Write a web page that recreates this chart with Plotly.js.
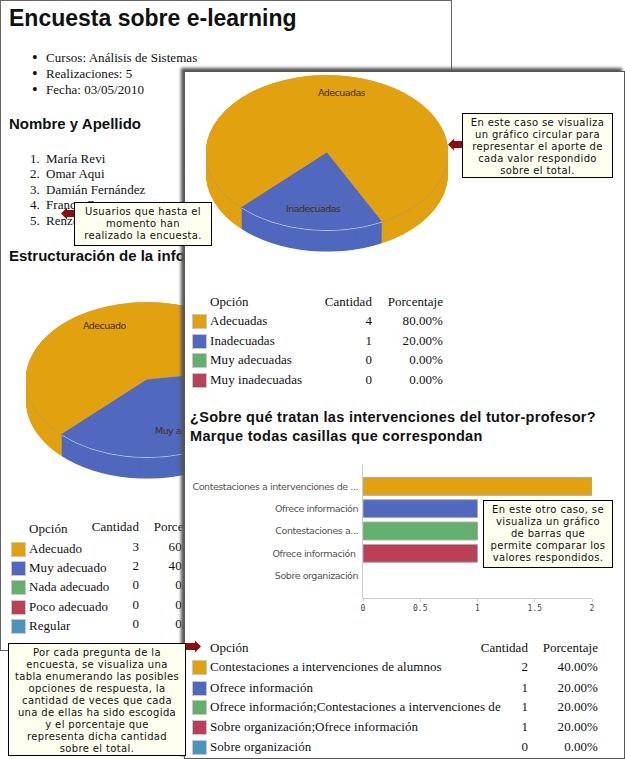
<!DOCTYPE html>
<html><head><meta charset="utf-8">
<script src="https://cdn.plot.ly/plotly-3.0.1.min.js"></script>
<style>
html,body{margin:0;padding:0;background:#fff;width:625px;height:759px;overflow:hidden}
#root{position:relative;width:625px;height:759px;overflow:hidden}
.page{position:absolute;background:#fff;box-sizing:border-box;overflow:hidden}
#back{left:0;top:0;width:452px;height:651px;border:1px solid #666}
#front{left:184px;top:71px;width:441px;height:688px;border:1px solid #555;box-shadow:-3px -3px 3px #555;overflow:visible}
.t{position:absolute;white-space:nowrap;color:#111}
.serif{font-family:"Liberation Serif",serif;font-size:13px;line-height:16px;letter-spacing:.05px}
.h{font-family:"Liberation Sans",sans-serif;font-weight:bold;color:#111}
.sw{position:absolute;width:13px;height:13px;border:1px solid #c8c8c8}
.tip{position:absolute;background:#fffff0;border:1px solid #000;box-sizing:border-box;text-align:center;font-family:"DejaVu Sans",sans-serif;font-size:10px;line-height:12px;color:#111;padding-top:2.5px;letter-spacing:.36px;z-index:20;white-space:nowrap}
.plab{position:absolute;font-family:"DejaVu Sans",sans-serif;font-size:9.5px;letter-spacing:-.55px;color:#3d3018;white-space:nowrap;overflow:hidden}
.pie{position:absolute;width:242px;height:276px;transform:scaleY(.64);transform-origin:0 0}
.arrow{position:absolute;z-index:19}
#bar .ytick text{letter-spacing:-.43px}
</style></head><body>
<div id="root">
  <div class="page" id="back"></div>
  <div class="page" id="front"></div>
</div>
<script>
/* ---------- chart values ---------- */
const colors=['#e2a210','#5068be','#62b06c','#bc3f58','#4a94be'];
const rimColors=['#b09a60','#d4d9ee','#62b06c','#bc3f58','#4a94be'];

const backOptions=['Adecuado','Muy adecuado','Nada adecuado','Poco adecuado','Regular'];
const backCounts=[3,2,0,0,0];
const backPercents=['60.00%','40.00%','0.00%','0.00%','0.00%'];

const frontOptions=['Adecuadas','Inadecuadas','Muy adecuadas','Muy inadecuadas'];
const frontCounts=[4,1,0,0];
const frontPercents=['80.00%','20.00%','0.00%','0.00%'];

const barOptions=['Contestaciones a intervenciones de alumnos','Ofrece información','Ofrece información;Contestaciones a intervenciones de','Sobre organización;Ofrece información','Sobre organización'];
const barTickLabels=['Contestaciones a intervenciones de ...','Ofrece información','Contestaciones a...','Ofrece información ','Sobre organización'];
const barCounts=[2,1,1,1,0];
const barPercents=['40.00%','20.00%','20.00%','20.00%','0.00%'];

const courseInfo=['Cursos: Análisis de Sistemas','Realizaciones: 5','Fecha: 03/05/2010'];
const people=['María Revi','Omar Aqui','Damián Fernández','Franco C','Renzo P'];

/* ---------- helpers ---------- */
const back=document.getElementById('back'), front=document.getElementById('front'), root=document.getElementById('root');
function txt(parent,ox,oy,s,x,cy,cls,extra){
  const d=document.createElement('div');d.className='t '+cls;d.textContent=s;
  d.style.cssText+=';left:'+(x-ox)+'px;top:'+(cy-oy-8)+'px;'+(extra||'');
  parent.appendChild(d);return d;
}
function rtxt(parent,ox,oy,s,right,cy,cls){
  const d=document.createElement('div');d.className='t '+cls;d.textContent=s;
  d.style.cssText+=';right:'+(parent.clientWidth-(right-ox))+'px;top:'+(cy-oy-8)+'px;';
  parent.appendChild(d);return d;
}
function table(parent,ox,oy,opts,counts,pcts,cfg){
  txt(parent,ox,oy,'Opción',cfg.optX,cfg.headY,'serif');
  rtxt(parent,ox,oy,'Cantidad',cfg.cntR,cfg.headY-(cfg.headShift||0),'serif');
  (cfg.pctHead?rtxt(parent,ox,oy,cfg.pctHead,cfg.pctR,cfg.headY-(cfg.headShift||0),'serif'):0);
  opts.forEach((o,i)=>{
    const y=cfg.rows[i];
    const sw=document.createElement('div');sw.className='sw';
    sw.style.cssText+=';left:'+(cfg.swX-ox)+'px;top:'+(y-oy-7)+'px;background:'+colors[i];
    parent.appendChild(sw);
    txt(parent,ox,oy,o,cfg.optX,y,'serif');
    rtxt(parent,ox,oy,String(counts[i]),cfg.cntR,y-(cfg.headShift||0),'serif');
    rtxt(parent,ox,oy,pcts[i],cfg.pctR,y-(cfg.headShift||0),'serif');
  });
}
function pie(parent,ox,oy,x,y,labels,values,rot){
  const d=document.createElement('div');d.className='pie';
  d.style.left=(x-ox)+'px';d.style.top=(y-oy)+'px';parent.appendChild(d);
  const D=242,H=276,depth=H-D,traces=[];
  for(let k=0;k<=depth;k++){
    const isRim=(k===depth-1);
    traces.push({type:'pie',labels:labels,values:values,sort:false,direction:'clockwise',rotation:rot,
      textinfo:'none',hoverinfo:'skip',showlegend:false,
      domain:{x:[0,1],y:[k/H,(k+D)/H]},
      marker:{colors:colors,line:{width:isRim?1:0,color:isRim?rimColors:'rgba(0,0,0,0)'}}});
  }
  Plotly.newPlot(d,traces,{width:242,height:276,margin:{l:0,r:0,t:0,b:0,pad:0},paper_bgcolor:'rgba(0,0,0,0)',showlegend:false},{staticPlot:true,displayModeBar:false});
}
function plab(parent,ox,oy,s,x,y,clipW){
  const d=document.createElement('div');d.className='plab';d.textContent=s;
  d.style.left=(x-ox)+'px';d.style.top=(y-oy-7)+'px';
  if(clipW)d.style.width=clipW+'px';
  parent.appendChild(d);
}
function tip(lines,x,y,w,h){
  const d=document.createElement('div');d.className='tip';
  d.style.cssText+=';left:'+x+'px;top:'+y+'px;width:'+w+'px;height:'+h+'px;';
  d.innerHTML=lines.map(l=>l).join('<br>');root.appendChild(d);
}
function arrow(x,y,dir){
  const ns='http://www.w3.org/2000/svg',s=document.createElementNS(ns,'svg');
  s.setAttribute('class','arrow');s.setAttribute('width','15');s.setAttribute('height','13');
  s.style.left=x+'px';s.style.top=y+'px';
  const p=document.createElementNS(ns,'path');
  p.setAttribute('d',dir<0?'M0 6.5L6 0.5V3H15V10H6V12.5Z':'M15 6.5L9 0.5V3H0V10H9V12.5Z');
  p.setAttribute('fill','#8a0f0f');s.appendChild(p);root.appendChild(s);
}

/* ---------- back page ---------- */
txt(back,1,1,'Encuesta sobre e-learning',9,18,'h','font-size:23px;line-height:16px;');
courseInfo.forEach((s,i)=>{
  const y=[58,74,90][i];
  txt(back,1,1,s,46,y,'serif');
  txt(back,1,1,'•',32,y,'serif','font-size:16px;');
});
txt(back,1,1,'Nombre y Apellido',9,124,'h','font-size:15px;line-height:16px;');
people.forEach((s,i)=>{
  const y=[159,174,190,205,221][i];
  txt(back,1,1,s,46,y,'serif');
  txt(back,1,1,(i+1)+'.',30,y,'serif');
});
txt(back,1,1,'Estructuración de la información',9,256,'h','font-size:15px;line-height:16px;');
pie(back,1,1,26,302,backOptions,backCounts,225);
plab(back,1,1,'Adecuado',83,327);
plab(back,1,1,'Muy adecuado',155,432,28);
table(back,1,1,backOptions,backCounts,backPercents,{optX:29,headY:529,cntR:139,pctR:209,pctHead:'Porcentaje',swX:11,rows:[549,568,587,607,626],headShift:2});

/* ---------- front page ---------- */
pie(front,185,72,206,75,frontOptions,frontCounts,225);
plab(front,185,72,'Adecuadas',318,94);
plab(front,185,72,'Inadecuadas',286,210);
table(front,185,72,frontOptions,frontCounts,frontPercents,{optX:210,headY:302,cntR:372,pctR:443,pctHead:'Porcentaje',swX:192,rows:[321,341,360,380]});
txt(front,185,72,'¿Sobre qué tratan las intervenciones del tutor-profesor?',190,417,'h','font-size:14.5px;line-height:16px;letter-spacing:.3px;');
txt(front,185,72,'Marque todas casillas que correspondan',190,436,'h','font-size:14.5px;line-height:16px;letter-spacing:.3px;');

const barDiv=document.createElement('div');barDiv.id='bar';
barDiv.style.cssText='position:absolute;left:1px;top:383px;width:430px;height:165px;';
front.appendChild(barDiv);
Plotly.newPlot(barDiv,[{type:'bar',orientation:'h',x:barCounts,y:[0,1,2,3,4],width:.8,
  marker:{color:colors,line:{color:'#aaaaaa',width:[1,1,1,1,0]}},hoverinfo:'skip'}],{
  width:430,height:165,paper_bgcolor:'rgba(0,0,0,0)',plot_bgcolor:'rgba(0,0,0,0)',
  margin:{l:176.7,r:24,t:9,b:22,pad:0},showlegend:false,
  xaxis:{range:[0,2],tickvals:[0,.5,1,1.5,2],ticktext:['0','0.5','1','1.5','2'],showgrid:false,zeroline:false,
    showline:true,linecolor:'#cccccc',ticks:'outside',ticklen:3,tickcolor:'#cccccc',ticklabelstandoff:-1,
    tickfont:{family:'"DejaVu Sans Mono",monospace',size:8,color:'#444'}},
  yaxis:{range:[5,-1],tickvals:[0,1,2,3,4],ticktext:barTickLabels,showgrid:false,zeroline:false,
    showline:true,linecolor:'#cccccc',ticks:'',ticklen:0,ticklabelstandoff:2,
    tickfont:{family:'"DejaVu Sans",sans-serif',size:9.5,color:'#555'}}
},{staticPlot:true,displayModeBar:false});

table(front,185,72,barOptions,barCounts,barPercents,{optX:210,headY:648,cntR:528,pctR:598,pctHead:'Porcentaje',swX:192,rows:[667,688,707,727,747]});

/* ---------- call-outs ---------- */
tip(['Usuarios que hasta el','momento han','realizado la encuesta.'],74,202,138,44);
arrow(61,207,-1);
tip(['En este caso se visualiza','un gráfico circular para','representar el aporte de','cada valor respondido','sobre el total.'],462,113,151,65);
arrow(448,138,-1);
tip(['En este otro caso, se','visualiza un gráfico','de barras que','permite comparar los','valores respondidos.'],483,500,130,68);
tip(['Por cada pregunta de la','encuesta, se visualiza una','tabla enumerando las posibles','opciones de respuesta, la','cantidad de veces que cada','una de ellas ha sido escogida','y el porcentaje que','representa dicha cantidad','sobre el total.'],8,643,178,113);
arrow(186,640,1);
</script>
</body></html>
